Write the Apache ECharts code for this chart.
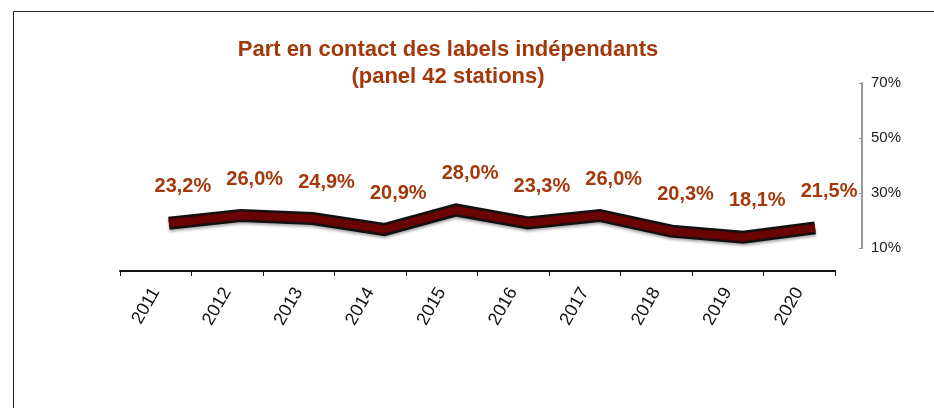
<!DOCTYPE html>
<html>
<head>
<meta charset="utf-8">
<script src="https://cdn.jsdelivr.net/npm/echarts@6/dist/echarts.min.js"></script>
<style>
  html, body { margin: 0; padding: 0; background: #fff; }
  #chart { width: 934px; height: 408px; }
</style>
</head>
<body>
<div id="chart"></div>
<script>
const years = ["2011", "2012", "2013", "2014", "2015", "2016", "2017", "2018", "2019", "2020"];
const shareValues = [23.2, 26.0, 24.9, 20.9, 28.0, 23.3, 26.0, 20.3, 18.1, 21.5];
const yTicks = { min: 10, max: 70, interval: 20 };

const FONT = "Liberation Sans, Arial, sans-serif";
const RUST = "#a3390b";

const chart = echarts.init(document.getElementById("chart"));

const fmtPct = (v) => v.toFixed(1).replace(".", ",") + "%";

chart.setOption({
  animation: false,
  title: {
    text: "Part en contact des labels indépendants\n(panel 42 stations)",
    left: 443,
    top: 31,
    textAlign: "center",
    textStyle: { fontFamily: FONT, fontSize: 22, fontWeight: "bold", color: RUST, lineHeight: 27 },
  },
  graphic: [
    {
      type: "rect",
      silent: true,
      shape: { x: 13.5, y: 11.5, width: 1000, height: 600 },
      style: { fill: "none", stroke: "#222", lineWidth: 1 },
    },
  ],
  grid: [
    // category axis
    { left: 120, right: 99, top: 100, bottom: 137 },
    // value axis (drawn at the back, to the right)
    { left: 500, right: 72, top: 83, bottom: 160 },
    // ribbon
    { left: 133, right: 83, top: 94.5, bottom: 148.5 },
  ],
  xAxis: [
    {
      gridIndex: 0,
      type: "category",
      data: years,
      boundaryGap: true,
      axisLine: { lineStyle: { color: "#111", width: 2 } },
      axisTick: { show: true, interval: 0, length: 5, lineStyle: { color: "#111" } },
      axisLabel: { rotate: 60, interval: 0, margin: 18, fontFamily: FONT, fontSize: 18, color: "#111" },
    },
    { gridIndex: 1, type: "category", data: years, show: false },
    { gridIndex: 2, type: "category", data: years, boundaryGap: true, show: false },
  ],
  yAxis: [
    { gridIndex: 0, type: "value", show: false },
    {
      gridIndex: 1,
      type: "value",
      position: "right",
      min: yTicks.min,
      max: yTicks.max,
      interval: yTicks.interval,
      axisLine: { show: true, lineStyle: { color: "#999", width: 2 } },
      axisTick: { show: true, inside: true, length: 3, lineStyle: { color: "#999" } },
      axisLabel: { margin: 9, fontFamily: FONT, fontSize: 15, color: "#222", formatter: "{value}%" },
      splitLine: { show: false },
    },
    { gridIndex: 2, type: "value", min: yTicks.min, max: yTicks.max, show: false },
  ],
  series: [
    {
      type: "line",
      xAxisIndex: 2,
      yAxisIndex: 2,
      data: shareValues,
      symbol: "none",
      silent: true,
      lineStyle: {
        color: "#141010",
        width: 13,
        join: "miter",
        cap: "butt",
        shadowColor: "rgba(0,0,0,0.35)",
        shadowBlur: 3,
        shadowOffsetY: 2,
      },
      z: 2,
    },
    {
      type: "line",
      xAxisIndex: 2,
      yAxisIndex: 2,
      data: shareValues,
      symbol: "circle",
      symbolSize: 1,
      itemStyle: { color: "rgba(0,0,0,0)" },
      lineStyle: { color: "#6a0303", width: 8, join: "miter", cap: "butt" },
      label: {
        show: true,
        position: "top",
        distance: 26,
        offset: [14, 0],
        fontFamily: FONT,
        fontSize: 20,
        fontWeight: "bold",
        color: RUST,
        formatter: (p) => fmtPct(p.value),
      },
      z: 3,
    },
  ],
});
</script>
</body>
</html>
